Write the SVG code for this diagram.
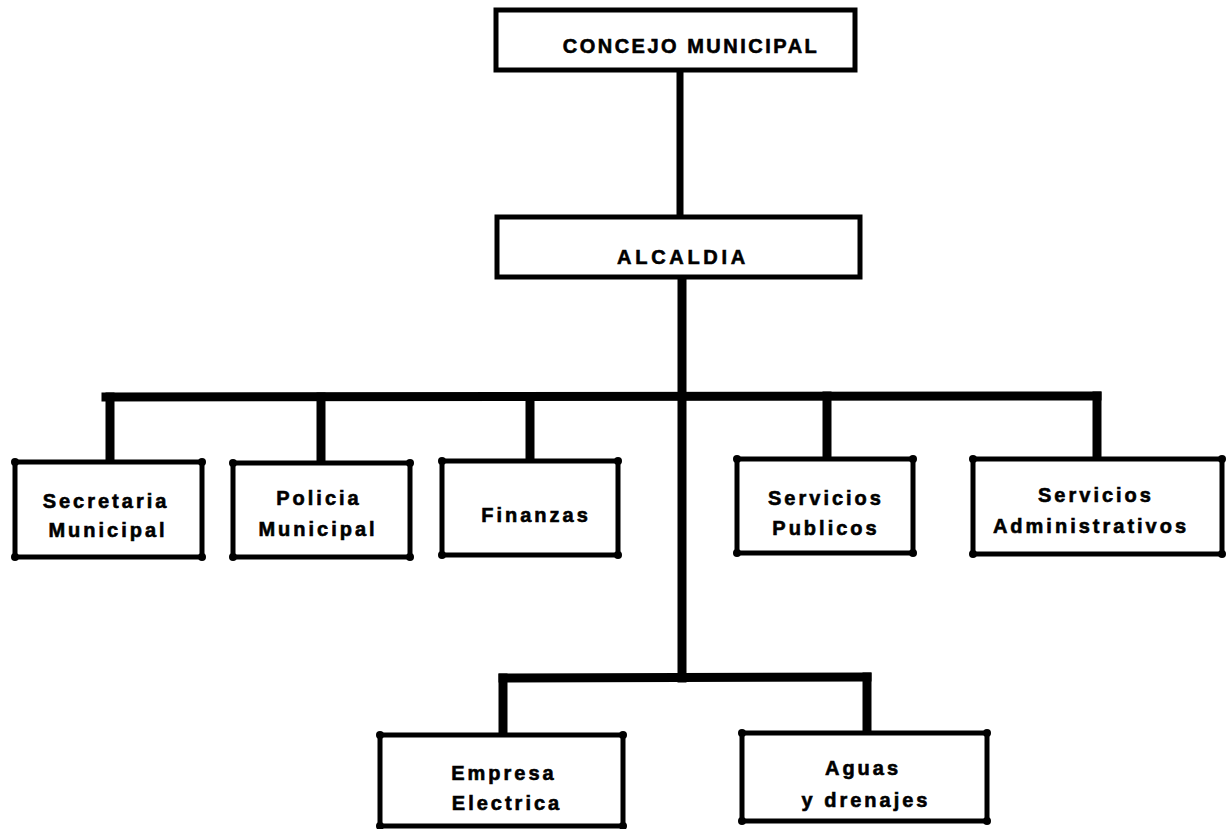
<svg xmlns="http://www.w3.org/2000/svg" width="1230" height="829" viewBox="0 0 1230 829">
<style>
.bg{fill:#fff}
.box{fill:#fff;stroke:#000;stroke-width:5}
.dot{fill:#000}
.conn line{stroke:#000;stroke-width:9;stroke-linecap:square}
.conn line.thin{stroke-width:7}
text{font-family:"Liberation Sans",Arial,sans-serif;font-weight:bold;font-size:20px;fill:#000;stroke:#000;stroke-width:0.6px;text-anchor:middle;letter-spacing:3px}
</style>
<rect class="bg" x="0" y="0" width="1230" height="829"/>
<g id="connectors" class="conn">
  <line class="thin" x1="680" y1="70" x2="680" y2="217"/>
  <line x1="682" y1="277" x2="682" y2="678"/>
  <line x1="106" y1="397" x2="1097" y2="396"/>
  <line x1="110" y1="397" x2="110" y2="462"/>
  <line x1="321" y1="397" x2="321" y2="462"/>
  <line x1="530" y1="397" x2="530" y2="461"/>
  <line x1="827" y1="396" x2="827" y2="459"/>
  <line x1="1097" y1="396" x2="1097" y2="459"/>
  <line x1="503" y1="678" x2="867" y2="677"/>
  <line x1="503" y1="678" x2="503" y2="735"/>
  <line x1="867" y1="677" x2="867" y2="733"/>
</g>
<g id="concejo">
  <rect class="box" x="496" y="10" width="359" height="60"/>
  <text x="691" y="53" style="letter-spacing:2.5px">CONCEJO MUNICIPAL</text>
</g>
<g id="alcaldia">
  <rect class="box" x="497" y="217" width="363" height="60"/>
  <text x="683" y="264" style="letter-spacing:3.7px">ALCALDIA</text>
</g>
<g id="secretaria">
  <rect class="box" x="15" y="462" width="187" height="95"/>
  <circle class="dot" cx="15" cy="462" r="4"/><circle class="dot" cx="202" cy="462" r="4"/><circle class="dot" cx="15" cy="557" r="4"/><circle class="dot" cx="202" cy="557" r="4"/>
  <text x="106" y="508">Secretaria</text>
  <text x="108" y="537">Municipal</text>
</g>
<g id="policia">
  <rect class="box" x="233" y="463" width="177" height="94"/>
  <circle class="dot" cx="233" cy="463" r="4"/><circle class="dot" cx="410" cy="463" r="4"/><circle class="dot" cx="233" cy="557" r="4"/><circle class="dot" cx="410" cy="557" r="4"/>
  <text x="319" y="505">Policia</text>
  <text x="318" y="536">Municipal</text>
</g>
<g id="finanzas">
  <rect class="box" x="442" y="461" width="176" height="94"/>
  <circle class="dot" cx="442" cy="461" r="4"/><circle class="dot" cx="618" cy="461" r="4"/><circle class="dot" cx="442" cy="555" r="4"/><circle class="dot" cx="618" cy="555" r="4"/>
  <text x="536" y="522">Finanzas</text>
</g>
<g id="servicios-publicos">
  <rect class="box" x="737" y="459" width="176" height="94"/>
  <circle class="dot" cx="737" cy="459" r="4"/><circle class="dot" cx="913" cy="459" r="4"/><circle class="dot" cx="737" cy="553" r="4"/><circle class="dot" cx="913" cy="553" r="4"/>
  <text x="826" y="505">Servicios</text>
  <text x="826" y="535">Publicos</text>
</g>
<g id="servicios-administrativos">
  <rect class="box" x="973" y="459" width="249" height="95"/>
  <circle class="dot" cx="973" cy="459" r="4"/><circle class="dot" cx="1222" cy="459" r="4"/><circle class="dot" cx="973" cy="554" r="4"/><circle class="dot" cx="1222" cy="554" r="4"/>
  <text x="1096" y="502">Servicios</text>
  <text x="1091" y="533">Administrativos</text>
</g>
<g id="empresa-electrica">
  <rect class="box" x="380" y="735" width="243" height="91"/>
  <circle class="dot" cx="380" cy="735" r="4"/><circle class="dot" cx="623" cy="735" r="4"/><circle class="dot" cx="380" cy="826" r="4"/><circle class="dot" cx="623" cy="826" r="4"/>
  <text x="504" y="780">Empresa</text>
  <text x="507" y="810">Electrica</text>
</g>
<g id="aguas-drenajes">
  <rect class="box" x="742" y="733" width="245" height="88"/>
  <circle class="dot" cx="742" cy="733" r="4"/><circle class="dot" cx="987" cy="733" r="4"/><circle class="dot" cx="742" cy="821" r="4"/><circle class="dot" cx="987" cy="821" r="4"/>
  <text x="863" y="775">Aguas</text>
  <text x="866" y="807">y drenajes</text>
</g>
</svg>
